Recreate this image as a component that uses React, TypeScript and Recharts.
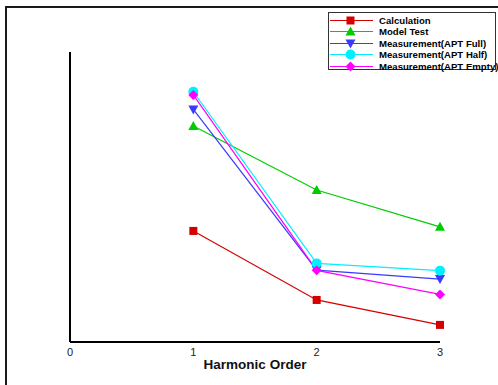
import React from 'react';
import { LineChart, Line, XAxis, YAxis, Legend } from 'recharts';

const harmonicOrders = [1, 2, 3];
const calculation = [38.3, 14.5, 5.9];
const modelTest = [74.5, 52.4, 39.7];
const aptFull = [80.2, 24.8, 21.7];
const aptHalf = [86.3, 27.1, 24.6];
const aptEmpty = [85.2, 24.7, 16.4];
const xTicks = [0, 1, 2, 3];

const data = harmonicOrders.map((h, i) => ({
  h,
  calculation: calculation[i],
  modelTest: modelTest[i],
  aptFull: aptFull[i],
  aptHalf: aptHalf[i],
  aptEmpty: aptEmpty[i],
}));

type Shape = 'square' | 'triangle' | 'down' | 'circle' | 'diamond';

const seriesDefs: { key: string; name: string; color: string; shape: Shape }[] = [
  { key: 'calculation', name: 'Calculation', color: '#d40000', shape: 'square' },
  { key: 'modelTest', name: 'Model Test', color: '#00cc00', shape: 'triangle' },
  { key: 'aptFull', name: 'Measurement(APT Full)', color: '#3a3aff', shape: 'down' },
  { key: 'aptHalf', name: 'Measurement(APT Half)', color: '#00f0ff', shape: 'circle' },
  { key: 'aptEmpty', name: 'Measurement(APT Empty)', color: '#ff00ff', shape: 'diamond' },
];

function marker(shape: Shape, cx: number, cy: number, color: string, key?: any) {
  switch (shape) {
    case 'square':
      return <rect key={key} x={cx - 4} y={cy - 4} width={8} height={8} fill={color} />;
    case 'triangle':
      return <polygon key={key} points={`${cx},${cy - 5} ${cx - 5},${cy + 4} ${cx + 5},${cy + 4}`} fill={color} />;
    case 'down':
      return <polygon key={key} points={`${cx - 5},${cy - 4} ${cx + 5},${cy - 4} ${cx},${cy + 5}`} fill={color} />;
    case 'circle':
      return <circle key={key} cx={cx} cy={cy} r={5} fill={color} />;
    case 'diamond':
      return <polygon key={key} points={`${cx},${cy - 5} ${cx + 5},${cy} ${cx},${cy + 5} ${cx - 5},${cy}`} fill={color} />;
  }
}

const makeDot = (shape: Shape, color: string) => (props: any) => {
  const { cx, cy, index } = props;
  return marker(shape, cx, cy, color, `d-${index}`);
};

const LegendBox = () => (
  <div
    style={{
      width: 168,
      height: 58,
      border: '1px solid #333',
      background: '#fff',
      boxSizing: 'border-box',
      position: 'relative',
      fontFamily: '"Liberation Sans", Arial, sans-serif',
      fontWeight: 'bold',
      fontSize: 9.6,
      color: '#000',
      overflow: 'visible',
    }}
  >
    {seriesDefs.map((s, i) => (
      <div
        key={s.key}
        style={{ position: 'absolute', left: 0, top: 2 + i * 11.4, height: 11, width: 200, whiteSpace: 'nowrap' }}
      >
        <svg width={48} height={11} style={{ position: 'absolute', left: 0, top: 0 }}>
          <line x1={1} y1={5.5} x2={44} y2={5.5} stroke={s.color} strokeWidth={1.2} />
          {marker(s.shape, 21.5, 5.5, s.color)}
        </svg>
        <span style={{ position: 'absolute', left: 50, top: 0, lineHeight: '11px' }}>{s.name}</span>
      </div>
    ))}
  </div>
);

export default function App() {
  return (
    <div style={{ position: 'absolute', left: 0, top: 0, width: 498, height: 385, background: '#fff', overflow: 'hidden' }}>
      <div
        style={{
          position: 'absolute',
          left: 5,
          top: 6,
          width: 600,
          height: 600,
          borderTop: '2px solid #1a1a1a',
          borderLeft: '2px solid #1a1a1a',
        }}
      />
      <div style={{ position: 'absolute', left: 0, top: 0 }}>
        <LineChart
          width={498}
          height={385}
          data={data}
          margin={{ top: 52, right: 58, bottom: 13, left: 60 }}
          style={{ fontFamily: '"Liberation Sans", Arial, sans-serif' }}
        >
          <XAxis
            dataKey="h"
            type="number"
            domain={[0, 3]}
            ticks={xTicks}
            tickLine={false}
            tickSize={0}
            tickMargin={6}
            height={30}
            axisLine={{ stroke: '#000', strokeWidth: 2 }}
            tick={{ fill: '#222', fontSize: 11 }}
            label={{
              value: 'Harmonic Order',
              position: 'insideBottom',
              offset: 3,
              fill: '#111',
              fontSize: 13.5,
              fontWeight: 'bold',
            }}
          />
          <YAxis
            type="number"
            domain={[0, 100]}
            width={10}
            tick={false}
            tickLine={false}
            axisLine={{ stroke: '#000', strokeWidth: 2 }}
          />
          <Legend
            layout="vertical"
            align="center"
            verticalAlign="middle"
            wrapperStyle={{ left: 328, top: 12, width: 168, height: 58 }}
            content={() => <LegendBox />}
          />
          {seriesDefs.map((s) => (
            <Line
              key={s.key}
              type="linear"
              dataKey={s.key}
              name={s.name}
              stroke={s.color}
              strokeWidth={1.2}
              dot={makeDot(s.shape, s.color)}
              activeDot={false}
              isAnimationActive={false}
            />
          ))}
        </LineChart>
      </div>
    </div>
  );
}
